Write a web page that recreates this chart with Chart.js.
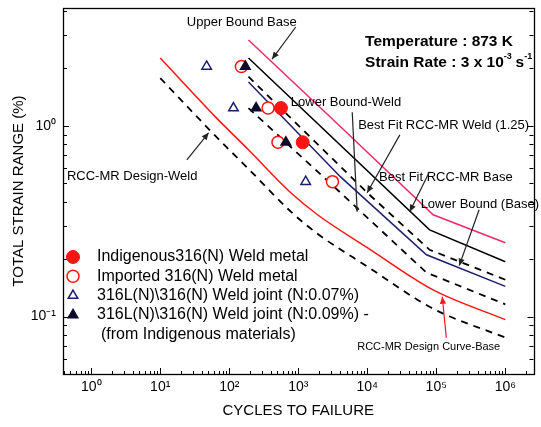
<!DOCTYPE html>
<html>
<head>
<meta charset="utf-8">
<script src="https://cdn.jsdelivr.net/npm/chart.js@4.4.1/dist/chart.umd.min.js"></script>
<style>
  html, body { margin: 0; padding: 0; background: #fff; }
  #wrap { width: 541px; height: 427px; }
</style>
</head>
<body>
<div id="wrap"><canvas id="fatigue" width="541" height="427"></canvas></div>
<script>
const FONT = 'Arial, "Liberation Sans", Helvetica, sans-serif';

// axis ranges and labelled ticks
const xMin = 0.39, xMax = 2.56e6;
const yMin = 0.05, yMax = 4.15;
const xTickValues = [1, 10, 100, 1e3, 1e4, 1e5, 1e6];
const yTickValues = [0.1, 1];

// design / bound curves: cycles (N) vs total strain range (%)
const designBaseN = [10, 63, 190, 780, 1900, 1e4, 9e4, 1e6];
const designBaseE = [2.27, 1.115, 0.749, 0.446, 0.342, 0.23, 0.138, 0.0964];
const designWeldN = [10, 63, 190, 780, 1900, 1e4, 9e4, 1e6];
const designWeldE = [1.78, 0.886, 0.595, 0.355, 0.272, 0.183, 0.110, 0.0776];
const upperBaseN = [190, 4400, 9e4, 1e6];
const upperBaseE = [2.82, 0.965, 0.342, 0.244];
const bestBaseN = [190, 8e4, 1e6];
const bestBaseE = [2.27, 0.285, 0.194];
const bestWeldN = [190, 1e4, 8e4, 1e6];
const bestWeldE = [1.81, 0.446, 0.224, 0.156];
const lowerBaseN = [190, 4100, 72000, 1e6];
const lowerBaseE = [1.70, 0.54, 0.211, 0.144];
const lowerWeldN = [190, 4100, 72000, 1e6];
const lowerWeldE = [1.24, 0.446, 0.17, 0.116];

// test results
const indigenousN = [561, 1160];
const indigenousE = [1.24, 0.82];
const importedN = [150, 365, 508, 3130];
const importedE = [2.05, 1.24, 0.82, 0.51];
const joint007N = [47, 115, 1280];
const joint007E = [2.05, 1.24, 0.51];
const joint009N = [171, 245, 661];
const joint009E = [2.05, 1.24, 0.82];

const SUP = { '0': '⁰', '1': '¹', '2': '²', '3': '³', '4': '⁴', '5': '⁵', '6': '⁶', '7': '⁷', '8': '⁸', '9': '⁹', '-': '⁻' };
function powLabel(v) {
  const e = Math.round(Math.log10(v));
  return '10' + String(e).split('').map(c => SUP[c]).join('');
}

const pts = (xs, ys) => xs.map((x, i) => ({ x, y: ys[i] }));

function curve(label, xs, ys, color, dash, smooth) {
  return {
    type: 'line', label, data: pts(xs, ys),
    borderColor: color, borderWidth: dash.length ? 1.8 : 1.5, borderDash: dash,
    pointRadius: 0, fill: false, order: 2,
    cubicInterpolationMode: smooth ? 'monotone' : 'default', tension: 0,
  };
}

const RED = '#ff1414', NAVY = '#1c1f6e', PINK = '#ee2c68';

const datasets = [
  curve('RCC-MR Design Curve-Base', designBaseN, designBaseE, RED, [], true),
  curve('RCC-MR Design-Weld', designWeldN, designWeldE, '#000', [7, 6], true),
  curve('Upper Bound Base', upperBaseN, upperBaseE, PINK, [], false),
  curve('Best Fit RCC-MR Base', bestBaseN, bestBaseE, '#000', [], false),
  curve('Best Fit RCC-MR Weld (1.25)', bestWeldN, bestWeldE, '#000', [7, 6], false),
  curve('Lower Bound (Base)', lowerBaseN, lowerBaseE, NAVY, [], false),
  curve('Lower Bound-Weld', lowerWeldN, lowerWeldE, '#000', [7, 6], false),
  { type: 'scatter', label: 'Imported 316(N) Weld metal', data: pts(importedN, importedE),
    pointStyle: 'circle', pointRadius: 6, backgroundColor: '#fff', borderColor: RED, borderWidth: 1.5, order: 1, legendRank: 1 },
  { type: 'scatter', label: 'Indigenous316(N) Weld metal', data: pts(indigenousN, indigenousE),
    pointStyle: 'circle', pointRadius: 6.5, backgroundColor: RED, borderColor: RED, borderWidth: 1, order: 1, legendRank: 0 },
  { type: 'scatter', label: '316L(N)\\316(N) Weld joint (N:0.07%)', data: pts(joint007N, joint007E),
    pointStyle: 'triangle', pointRadius: 5.5, backgroundColor: '#fff', borderColor: NAVY, borderWidth: 1.5, order: 0, legendRank: 2 },
  { type: 'scatter', label: '316L(N)\\316(N) Weld joint (N:0.09%) -', data: pts(joint009N, joint009E),
    pointStyle: 'triangle', pointRadius: 5.5, backgroundColor: '#0b0b2a', borderColor: '#0b0b2a', borderWidth: 1.5, order: 0, legendRank: 3,
    legendExtra: '(from Indigenous materials)' },
];

// text notes and leader arrows, placed in data coordinates
const notes = [
  { text: 'Upper Bound Base', at: [24.3, 3.5], font: '13px ' + FONT },
  { text: 'Lower Bound-Weld', at: [780, 1.32], font: '13px ' + FONT },
  { text: 'Best Fit RCC-MR Weld (1.25)', at: [7380, 1.0], font: '13px ' + FONT },
  { text: 'Best Fit RCC-MR Base', at: [14800, 0.535], font: '13px ' + FONT },
  { text: 'Lower Bound (Base)', at: [59300, 0.386], font: '13px ' + FONT },
  { text: 'RCC-MR Design-Weld', at: [0.445, 0.541], font: '13px ' + FONT },
  { text: 'RCC-MR Design Curve-Base', at: [7140, 0.0689], font: '11px ' + FONT },
];
const pointers = [
  { from: [920, 3.3], to: [417, 2.24], color: '#222' },
  { from: [6050, 1.18], to: [7140, 0.355], color: '#222', head: 4 },
  { from: [29600, 0.897], to: [9940, 0.446], color: '#222' },
  { from: [79500, 0.574], to: [41200, 0.355], color: '#222' },
  { from: [417000, 0.363], to: [215000, 0.185], color: '#222' },
  { from: [24.3, 0.664], to: [50.2, 0.919], color: '#222' },
  { from: [139600, 0.0776], to: [122000, 0.127], color: RED },
];
const conditionLines = [
  [{ t: 'Temperature : 873 K' }],
  [{ t: 'Strain Rate : 3 x 10' }, { t: '-3', sup: true }, { t: ' s' }, { t: '-1', sup: true }],
];
const conditionAt = [[9300, 2.75], [9300, 2.14]];

const frameAndTicks = {
  id: 'frameAndTicks',
  afterDatasetsDraw(chart) {
    const { ctx, chartArea: a, scales: { x, y } } = chart;
    const values = (s) => {
      const out = [];
      for (let k = Math.floor(Math.log10(s.min)); k <= Math.ceil(Math.log10(s.max)); k++) {
        for (let d = 1; d <= 9; d++) {
          const v = d * Math.pow(10, k);
          if (v >= s.min && v <= s.max) out.push({ v, major: d === 1 });
        }
      }
      return out;
    };
    ctx.save();
    ctx.strokeStyle = '#000';
    ctx.lineWidth = 1;
    ctx.beginPath();
    for (const t of values(x)) {
      const px = Math.round(x.getPixelForValue(t.v)) + 0.5;
      const len = t.major ? 6 : 3;
      ctx.moveTo(px, a.bottom); ctx.lineTo(px, a.bottom - len);
    }
    for (const t of values(y)) {
      const py = Math.round(y.getPixelForValue(t.v)) + 0.5;
      const len = t.major ? 6 : 4;
      ctx.moveTo(a.left, py); ctx.lineTo(a.left + len, py);
      ctx.moveTo(a.right, py); ctx.lineTo(a.right - len, py);
    }
    ctx.stroke();
    ctx.lineWidth = 1.3;
    ctx.strokeRect(Math.round(a.left) + 0.5, Math.round(a.top) + 0.5,
      Math.round(a.right - a.left), Math.round(a.bottom - a.top));
    ctx.restore();
  },
};

const annotations = {
  id: 'annotations',
  afterDraw(chart) {
    const { ctx, scales: { x, y } } = chart;
    const P = (d) => [x.getPixelForValue(d[0]), y.getPixelForValue(d[1])];
    ctx.save();
    ctx.textBaseline = 'middle';
    ctx.textAlign = 'left';
    ctx.fillStyle = '#000';
    for (const n of notes) {
      const [px, py] = P(n.at);
      ctx.font = n.font;
      ctx.fillText(n.text, px, py);
    }
    for (const p of pointers) {
      const [x0, y0] = P(p.from), [x1, y1] = P(p.to);
      const ang = Math.atan2(y1 - y0, x1 - x0);
      const h = p.head || 7;
      ctx.strokeStyle = p.color; ctx.fillStyle = p.color; ctx.lineWidth = 1.2;
      ctx.beginPath(); ctx.moveTo(x0, y0); ctx.lineTo(x1, y1); ctx.stroke();
      ctx.beginPath();
      ctx.moveTo(x1, y1);
      ctx.lineTo(x1 - h * Math.cos(ang) + h * 0.45 * Math.sin(ang), y1 - h * Math.sin(ang) - h * 0.45 * Math.cos(ang));
      ctx.lineTo(x1 - h * Math.cos(ang) - h * 0.45 * Math.sin(ang), y1 - h * Math.sin(ang) + h * 0.45 * Math.cos(ang));
      ctx.closePath(); ctx.fill();
    }
    // test conditions, with raised exponents
    ctx.fillStyle = '#000';
    conditionLines.forEach((segs, i) => {
      let [px, py] = P(conditionAt[i]);
      for (const s of segs) {
        ctx.font = (s.sup ? 'bold 9px ' : 'bold 15.5px ') + FONT;
        ctx.fillText(s.t, px, s.sup ? py - 6 : py);
        px += ctx.measureText(s.t).width - (s.sup ? 0.5 : 0);
      }
    });
    // legend in the lower-left corner of the plot
    const a = chart.chartArea;
    const rows = chart.data.datasets.filter(d => d.type === 'scatter')
      .sort((p, q) => p.legendRank - q.legendRank);
    ctx.font = '16px ' + FONT;
    rows.forEach((d, i) => {
      const cy = a.bottom - 117 + i * 19.3;
      const cx = a.left + 10;
      ctx.fillStyle = d.backgroundColor; ctx.strokeStyle = d.borderColor; ctx.lineWidth = d.borderWidth;
      Chart.helpers.drawPoint(ctx, { pointStyle: d.pointStyle, radius: d.pointRadius, rotation: 0, borderWidth: d.borderWidth }, cx, cy);
      ctx.fillStyle = '#000';
      ctx.fillText(d.label, a.left + 34, cy);
      if (d.legendExtra) ctx.fillText(d.legendExtra, a.left + 38, cy + 19.3);
    });
    ctx.restore();
  },
};

new Chart(document.getElementById('fatigue'), {
  data: { datasets },
  options: {
    responsive: false,
    animation: false,
    layout: { padding: { top: 8, right: 1, bottom: 0, left: 0 } },
    plugins: { legend: { display: false }, tooltip: { enabled: false } },
    scales: {
      x: {
        type: 'logarithmic', min: xMin, max: xMax,
        afterBuildTicks: s => { s.ticks = xTickValues.map(v => ({ value: v })); },
        afterFit: s => { s.height = 53; s.paddingLeft = 0; s.paddingRight = 0; },
        grid: { display: false, drawTicks: false },
        border: { display: false },
        ticks: { color: '#000', font: { family: FONT, size: 14 }, padding: 5, maxRotation: 0, autoSkip: false,
          callback: v => powLabel(v) },
        title: { display: true, text: 'CYCLES TO FAILURE', color: '#000',
          font: { family: FONT, size: 15 }, padding: { top: 0, bottom: 7 } },
      },
      y: {
        type: 'logarithmic', min: yMin, max: yMax,
        afterBuildTicks: s => { s.ticks = yTickValues.map(v => ({ value: v })); },
        afterFit: s => { s.width = 63; s.paddingTop = 0; s.paddingBottom = 0; },
        grid: { display: false, drawTicks: false },
        border: { display: false },
        ticks: { color: '#000', font: { family: FONT, size: 14 }, padding: 7, autoSkip: false,
          callback: v => powLabel(v) },
        title: { display: true, text: 'TOTAL STRAIN RANGE (%)', color: '#000',
          font: { family: FONT, size: 15 }, padding: { top: 10, bottom: 0 } },
      },
    },
  },
  plugins: [frameAndTicks, annotations],
});
</script>
</body>
</html>
